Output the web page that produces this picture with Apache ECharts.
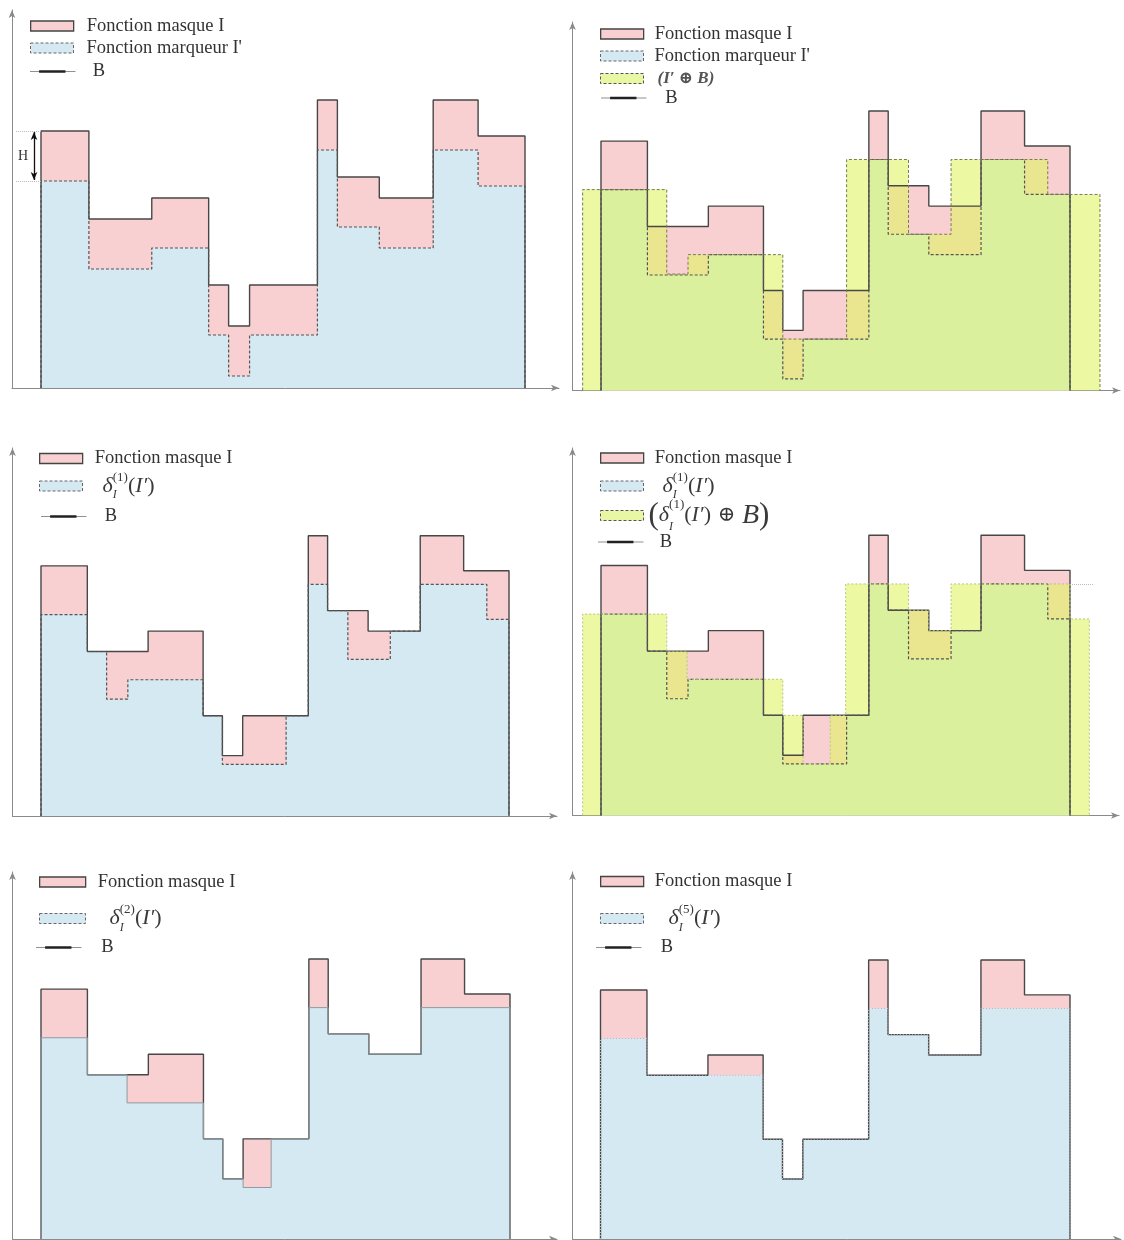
<!DOCTYPE html>
<html><head><meta charset="utf-8">
<script src="https://cdn.jsdelivr.net/npm/echarts@6/dist/echarts.min.js"></script>
<style>html,body{margin:0;padding:0;background:#fff}#c{width:1124px;height:1240px}</style>
</head><body><div id="c"></div>
<script>
// ---------------- DATA (abscissa units / height units) ----------------
// Fonction masque I
const maskEdges = [0, 48, 111, 168, 188, 209, 277, 297, 339, 393, 438, 485];
const maskValues = [257, 169, 190, 103, 62, 103, 288, 211, 190, 288, 252];
// Fonction marqueur I'
const markerEdges = [0, 48, 111, 168, 188, 209, 277, 297, 339, 393, 438, 485];
const markerValues = [207, 119, 140, 53, 12, 53, 238, 161, 140, 238, 202];
// (I' ⊕ B)
const dilMarkerEdges = [-19, 68, 90, 188, 254, 318, 362, 462, 516];
const dilMarkerValues = [207, 120, 140, 53, 238, 161, 238, 202];
// δ(1)
const rec1Edges = [0, 48, 68, 90, 168, 188, 254, 277, 297, 318, 362, 393, 462, 485];
const rec1Values = [207, 169, 120, 140, 103, 53, 103, 238, 211, 161, 190, 238, 202];
// (δ(1) ⊕ B)
const dilRec1Edges = [-19, 68, 89, 188, 209, 237, 253, 318, 339, 362, 485, 505];
const dilRec1Values = [207, 169, 140, 103, 53, 103, 238, 211, 190, 238, 202];
// δ(2)
const rec2Edges = [0, 48, 89, 168, 188, 209, 238, 277, 297, 339, 393, 485];
const rec2Values = [207, 169, 140, 103, 62, 53, 103, 238, 211, 190, 238];
// δ(5)
const rec5Edges = [0, 48, 168, 188, 209, 277, 297, 339, 393, 485];
const rec5Values = [207, 169, 103, 62, 103, 238, 211, 190, 238];
// H annotation levels (top of I and top of I' on first segment)
const hLevels = [257, 207];
const spikeHeight = 288;
const domainEnd = 485;

// ---------------- LAYOUT ----------------
const panelLayout = [
  {x0: 41,    x1: 525,  axisX: 12,    arrowX: 559,  base: 388,    top: 10,  spike: 100},
  {x0: 601,   x1: 1070, axisX: 572.5, arrowX: 1120, base: 390.5,  top: 22,  spike: 111},
  {x0: 41,    x1: 509,  axisX: 12.5,  arrowX: 557,  base: 816,    top: 448, spike: 535.7},
  {x0: 601,   x1: 1070, axisX: 572.5, arrowX: 1119, base: 815.5,  top: 448, spike: 535.3},
  {x0: 41,    x1: 510,  axisX: 12.5,  arrowX: 557,  base: 1239,   top: 872, spike: 959},
  {x0: 600.5, x1: 1070, axisX: 572.5, arrowX: 1121, base: 1239,   top: 872, spike: 960}
];

const SERIF = "'Liberation Serif', 'DejaVu Serif', serif";
const PINK = '#f9d0d2', BLUE = '#d4e9f1', GREEN = 'rgba(224,245,100,0.6)', GREEN_ICON = '#e8f7a4';
const AXIS = '#8a8a8a';

const grids = [], xAxes = [], yAxes = [];
panelLayout.forEach((p, i) => {
  const sx = (p.x1 - p.x0) / domainEnd;
  const sy = (p.base - p.spike) / spikeHeight;
  grids.push({left: p.axisX, top: p.top, width: p.arrowX - p.axisX, height: p.base - p.top, containLabel: false});
  xAxes.push({type: 'value', gridIndex: i, min: (p.axisX - p.x0) / sx, max: (p.arrowX - p.x0) / sx,
    axisLine: {show: true, onZero: false, symbol: ['none', 'arrow'], symbolSize: [5, 8], lineStyle: {color: AXIS, width: 1}},
    axisTick: {show: false}, axisLabel: {show: false}, splitLine: {show: false}});
  yAxes.push({type: 'value', gridIndex: i, min: 0, max: (p.base - p.top) / sy,
    axisLine: {show: true, onZero: false, symbol: ['none', 'arrow'], symbolSize: [5, 8], lineStyle: {color: AXIS, width: 1}},
    axisTick: {show: false}, axisLabel: {show: false}, splitLine: {show: false}});
});

function stepPoints(edges, values) {
  const pts = [[edges[0], 0]];
  for (let i = 0; i < values.length; i++) pts.push([edges[i], values[i]]);
  pts.push([edges[edges.length - 1], values[values.length - 1]]);
  pts.push([edges[edges.length - 1], 0]);
  return pts;
}
function stepSeries(name, g, edges, values, fill, line, extra) {
  return Object.assign({
    type: 'line', name: name, xAxisIndex: g, yAxisIndex: g, step: 'end',
    data: stepPoints(edges, values), showSymbol: false, symbol: 'none', silent: true,
    animation: false, lineStyle: line, areaStyle: {color: fill, opacity: 1},
    emphasis: {disabled: true}
  }, extra || {});
}

const maskLine = {color: '#474747', width: 1.4};
const dashLine = {color: '#555', width: 1.2, type: [3, 2]};
const greenDash = {color: '#7a7a55', width: 1, type: [3, 2]};
const greenDot = {color: '#b9c47f', width: 1, type: [2, 2]};
const thinLine = {color: '#8f9aa0', width: 1};
const dotLine = {color: '#b0b8c0', width: 1, type: [1, 2]};

const N_MASK = 'Fonction masque I', N_MARK = "Fonction marqueur I'", N_DILM = 'dilMarker',
      N_R1 = 'rec1', N_DR1 = 'dilRec1', N_R2 = 'rec2', N_R5 = 'rec5', N_B = 'B';

const guide = {type: 'dotted', color: '#bbb', width: 1};
const arrowStyle = {type: 'solid', color: '#111', width: 1.3};

const series = [
  // panel 1
  stepSeries(N_MASK, 0, maskEdges, maskValues, PINK, maskLine, {
    markLine: {silent: true, animation: false, symbol: ['none', 'none'], label: {show: false},
      data: [
        [{coord: [-25, hLevels[0]], lineStyle: guide}, {coord: [0, hLevels[0]], lineStyle: guide}],
        [{coord: [-25, hLevels[1]], lineStyle: guide}, {coord: [0, hLevels[1]], lineStyle: guide}],
        [{coord: [-7, hLevels[0] - 1], symbol: 'arrow', symbolSize: [5, 8], lineStyle: arrowStyle},
         {coord: [-7, hLevels[1] + 1], symbol: 'arrow', symbolSize: [5, 8], lineStyle: arrowStyle}]
      ]},
    markPoint: {silent: true, animation: false, data: [{coord: [-18, (hLevels[0] + hLevels[1]) / 2], symbol: 'circle', symbolSize: 1,
      itemStyle: {color: 'rgba(0,0,0,0)'}, label: {show: true, formatter: 'H', position: 'inside', color: '#333', fontFamily: SERIF, fontSize: 14}}]}
  }),
  stepSeries(N_MARK, 0, markerEdges, markerValues, BLUE, dashLine),
  {type: 'line', name: N_B, xAxisIndex: 0, yAxisIndex: 0, data: [], silent: true},
  // panel 2
  stepSeries(N_MASK, 1, maskEdges, maskValues, PINK, maskLine),
  stepSeries(N_MARK, 1, markerEdges, markerValues, BLUE, dashLine),
  stepSeries(N_DILM, 1, dilMarkerEdges, dilMarkerValues, GREEN, greenDash),
  // panel 3
  stepSeries(N_MASK, 2, maskEdges, maskValues, PINK, maskLine),
  stepSeries(N_R1, 2, rec1Edges, rec1Values, BLUE, dashLine),
  // panel 4
  stepSeries(N_MASK, 3, maskEdges, maskValues, PINK, maskLine, {
    markLine: {silent: true, animation: false, symbol: ['none', 'none'], label: {show: false},
      data: [[{coord: [domainEnd, rec1Values[rec1Values.length - 2]], lineStyle: guide},
              {coord: [domainEnd + 25, rec1Values[rec1Values.length - 2]], lineStyle: guide}]]}
  }),
  stepSeries(N_R1, 3, rec1Edges, rec1Values, BLUE, dashLine),
  stepSeries(N_DR1, 3, dilRec1Edges, dilRec1Values, GREEN, greenDot),
  // panel 5
  stepSeries(N_MASK, 4, maskEdges, maskValues, PINK, maskLine),
  stepSeries(N_R2, 4, rec2Edges, rec2Values, BLUE, thinLine),
  // panel 6
  stepSeries(N_MASK, 5, maskEdges, maskValues, PINK, maskLine),
  stepSeries(N_R5, 5, rec5Edges, rec5Values, BLUE, dotLine)
];

// ---------------- LEGENDS ----------------
const RICH = {
  t: {fontFamily: SERIF, fontSize: 18.5, color: '#333', lineHeight: 22},
  i: {fontFamily: SERIF, fontStyle: 'italic', fontSize: 22, color: '#3a3a3a', lineHeight: 30},
  r: {fontFamily: SERIF, fontSize: 22, color: '#3a3a3a', lineHeight: 30},
  sp: {fontFamily: SERIF, fontSize: 13, color: '#3a3a3a', lineHeight: 13, verticalAlign: 'top'},
  sb: {fontFamily: SERIF, fontStyle: 'italic', fontSize: 12, color: '#3a3a3a', lineHeight: 12, verticalAlign: 'bottom', width: 0},
  bi: {fontFamily: SERIF, fontStyle: 'italic', fontWeight: 'bold', fontSize: 17, color: '#555', lineHeight: 20},
  bp: {fontFamily: SERIF, fontSize: 31, color: '#3a3a3a', lineHeight: 34},
  o: {fontFamily: 'DejaVu Serif', fontSize: 21, color: '#3a3a3a', lineHeight: 30},
  bb: {fontFamily: SERIF, fontStyle: 'italic', fontSize: 28, color: '#3a3a3a', lineHeight: 34}
};
const delta = k => '{i|δ}{sb|I}{sp|(' + k + ')}{r|(}{i|I′}{r|)}';
const LBL = {
  mask: '{t|Fonction masque I}',
  mark: "{t|Fonction marqueur I'}",
  dilM: '{bi|(I′ ⊕ B)}',
  r1: delta(1),
  dr1: '{bp|(}' + delta(1) + '{o| ⊕ }{bb|B}{bp|)}',
  r2: delta(2),
  r5: delta(5),
  B: '{t|B}'
};
const ICON = {
  mask: {icon: 'rect', itemStyle: {color: PINK, borderColor: '#444', borderWidth: 1.3}},
  mark: {icon: 'rect', itemStyle: {color: BLUE, borderColor: '#666', borderWidth: 1, borderType: [3, 2]}},
  green: {icon: 'rect', itemStyle: {color: GREEN_ICON, borderColor: '#555', borderWidth: 1, borderType: [3, 2]}},
  B: {icon: 'path://M0,0 L0,0 M0,5.2 L50,5.2 L50,5.8 L0,5.8 Z M10,4 L39,4 L39,7 L10,7 Z M50,11 L50,11',
      itemStyle: {color: '#222', borderWidth: 0}}
};
const legendRows = [
  {name: N_MASK, lbl: 'mask', ic: 'mask', x: 30, cy: 27.5, h: 22, pad: 8},
  {name: N_MARK, lbl: 'mark', ic: 'mark', x: 30, cy: 49.5, h: 22, pad: 8},
  {name: N_B, lbl: 'B', ic: 'B', x: 30, cy: 73, h: 22, pad: 7, w: 56},

  {name: N_MASK, lbl: 'mask', ic: 'mask', x: 600, cy: 35.5, h: 22, pad: 6},
  {name: N_MARK, lbl: 'mark', ic: 'mark', x: 600, cy: 57.5, h: 22, pad: 6},
  {name: N_DILM, lbl: 'dilM', ic: 'green', x: 600, cy: 80, h: 20, pad: 9},
  {name: N_B, lbl: 'B', ic: 'B', x: 601, cy: 99.5, h: 22, pad: 11, w: 51},

  {name: N_MASK, lbl: 'mask', ic: 'mask', x: 39, cy: 460, h: 22, pad: 7},
  {name: N_R1, lbl: 'r1', ic: 'mark', x: 39, cy: 486, h: 30, pad: 15},
  {name: N_B, lbl: 'B', ic: 'B', x: 41, cy: 518, h: 22, pad: 11, w: 50},

  {name: N_MASK, lbl: 'mask', ic: 'mask', x: 600, cy: 459.5, h: 22, pad: 6},
  {name: N_R1, lbl: 'r1', ic: 'mark', x: 600, cy: 486, h: 30, pad: 14},
  {name: N_DR1, lbl: 'dr1', ic: 'green', x: 600, cy: 515.5, h: 34, pad: 0},
  {name: N_B, lbl: 'B', ic: 'B', x: 598, cy: 543.5, h: 22, pad: 9, w: 50},

  {name: N_MASK, lbl: 'mask', ic: 'mask', x: 39, cy: 883.5, h: 22, pad: 7, w: 46},
  {name: N_R2, lbl: 'r2', ic: 'mark', x: 39, cy: 918.5, h: 30, pad: 19, w: 46},
  {name: N_B, lbl: 'B', ic: 'B', x: 36, cy: 949, h: 22, pad: 12, w: 51},

  {name: N_MASK, lbl: 'mask', ic: 'mask', x: 600, cy: 883, h: 22, pad: 6},
  {name: N_R5, lbl: 'r5', ic: 'mark', x: 600, cy: 918.5, h: 30, pad: 20},
  {name: N_B, lbl: 'B', ic: 'B', x: 596, cy: 949, h: 22, pad: 11, w: 52}
];
const legends = legendRows.map(r => ({
  show: true, orient: 'horizontal', left: r.x, top: r.cy - r.h / 2, padding: 0,
  itemWidth: r.w || 43, itemHeight: 10, selectedMode: false,
  data: [Object.assign({name: r.name}, ICON[r.ic])],
  formatter: () => LBL[r.lbl],
  textStyle: {fontFamily: SERIF, fontSize: 18, color: '#333', padding: [0, 0, 0, r.pad], rich: RICH}
}));

const chart = echarts.init(document.getElementById('c'), null, {renderer: 'canvas'});
chart.setOption({
  backgroundColor: '#ffffff',
  animation: false,
  textStyle: {fontFamily: SERIF},
  grid: grids, xAxis: xAxes, yAxis: yAxes,
  legend: legends,
  series: series
});
</script></body></html>
